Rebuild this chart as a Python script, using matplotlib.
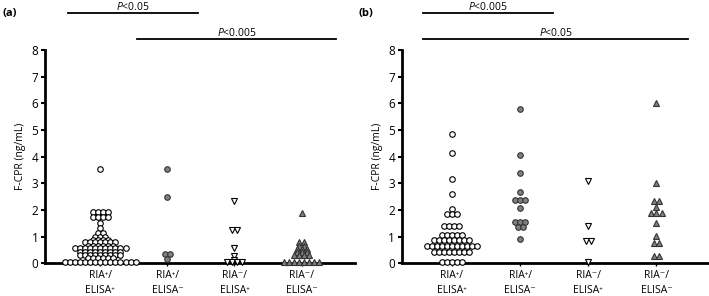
import matplotlib.pyplot as plt
import numpy as np

plt.rcParams['font.family'] = ['Open Sans', 'DejaVu Sans']
plt.rcParams['mathtext.fontset'] = 'custom'
plt.rcParams['mathtext.it'] = 'Open Sans:italic'
plt.rcParams['mathtext.rm'] = 'Open Sans'

# category labels
cats = ['RIA\u207a/\nELISA\u207a', 'RIA\u207a/\nELISA\u207b',
        'RIA\u207b/\nELISA\u207a', 'RIA\u207b/\nELISA\u207b']

# panel (a) F-CPR values (ng/mL)
a_pp = ([3.55] + [1.92]*4 + [1.72]*4 + [1.52] + [1.32] + [1.15]*2 + [1.0]*3 +
        [0.88]*4 + [0.78]*7 + [0.65]*6 + [0.55]*11 + [0.42]*9 + [0.3]*9 +
        [0.2]*6 + [0.05]*15)
a_pm = [3.52, 2.5, 0.33, 0.33, 0.15]
a_mp = [2.35, 1.25, 1.25, 0.55, 0.25, 0.12] + [0.05]*4
a_mm = [1.9] + [0.8]*2 + [0.65]*2 + [0.52]*3 + [0.42]*3 + [0.32]*4 + [0.05]*8

# panel (b)
b_pp = ([4.85, 4.15, 3.16, 2.6, 2.03] + [1.85]*3 + [1.4]*4 + [1.05]*5 +
        [0.86]*8 + [0.63]*11 + [0.42]*8 + [0.05]*5)
b_pm = [5.8, 4.05, 3.4, 2.68] + [2.38]*3 + [2.07] + [1.55]*3 + [1.36]*2 + [0.92]
b_mp = [3.08, 1.4, 0.85, 0.85, 0.05]
b_mm = [6.0, 3.02] + [2.33]*2 + [2.12] + [1.87]*3 + [1.52, 1.02] + [0.77]*2 + [0.27]*2

styles = [dict(marker='o', mfc='white', mec='black'),
          dict(marker='o', mfc='#808080', mec='#333333'),
          dict(marker='v', mfc='white', mec='black'),
          dict(marker='^', mfc='#808080', mec='#333333')]


def spread(vals, center, step):
    vals = np.array(vals)
    xs = np.zeros(len(vals))
    for v in np.unique(vals):
        idx = np.where(vals == v)[0]
        n = len(idx)
        xs[idx] = center + (np.arange(n) - (n - 1) / 2) * step
    return xs


fig = plt.figure(figsize=(7.09, 2.96), dpi=100)
ax1 = fig.add_axes([0.064, 0.111, 0.437, 0.72])
ax2 = fig.add_axes([0.567, 0.111, 0.433, 0.72])


def draw(ax, groups, xlim, bars, step):
    for i, g in enumerate(groups):
        xs = spread(g, i + 1, step)
        ax.plot(xs, g, linestyle='none', ms=4.0, mew=0.8, clip_on=False,
                zorder=3, **styles[i])
    ax.set_xlim(*xlim)
    ax.set_ylim(0, 8)
    ax.set_yticks(range(9))
    ax.set_xticks([1, 2, 3, 4])
    ax.set_xticklabels(cats, fontsize=7.5, linespacing=1.5)
    ax.tick_params(axis='y', labelsize=8.5, length=3, width=1.5, pad=2)
    ax.tick_params(axis='x', length=2, width=1, pad=3)
    for s in ['top', 'right']:
        ax.spines[s].set_visible(False)
    ax.spines['left'].set_linewidth(2)
    ax.spines['bottom'].set_linewidth(2)
    ax.set_ylabel('F-CPR (ng/mL)', fontsize=7.5, labelpad=4)
    for x0, x1, y, txt in bars:
        ax.plot([x0, x1], [y, y], color='black', lw=1.3, clip_on=False)
        ax.text((x0 + x1) / 2, y + 0.12, txt, ha='center', va='baseline',
                fontsize=7.5)


draw(ax1, [a_pp, a_pm, a_mp, a_mm], (0.18, 4.8),
     [(0.52, 2.46, 9.38, '$P$<0.05'), (1.55, 4.52, 8.42, '$P$<0.005')], 0.075)
draw(ax2, [b_pp, b_pm, b_mp, b_mm], (0.27, 4.77),
     [(0.58, 2.49, 9.38, '$P$<0.005'), (0.58, 4.46, 8.42, '$P$<0.05')], 0.074)

fig.text(0.004, 0.955, '(a)', fontsize=8, fontweight='bold', va='center')
fig.text(0.505, 0.955, '(b)', fontsize=8, fontweight='bold', va='center')

fig.savefig('out.png', dpi=100)
